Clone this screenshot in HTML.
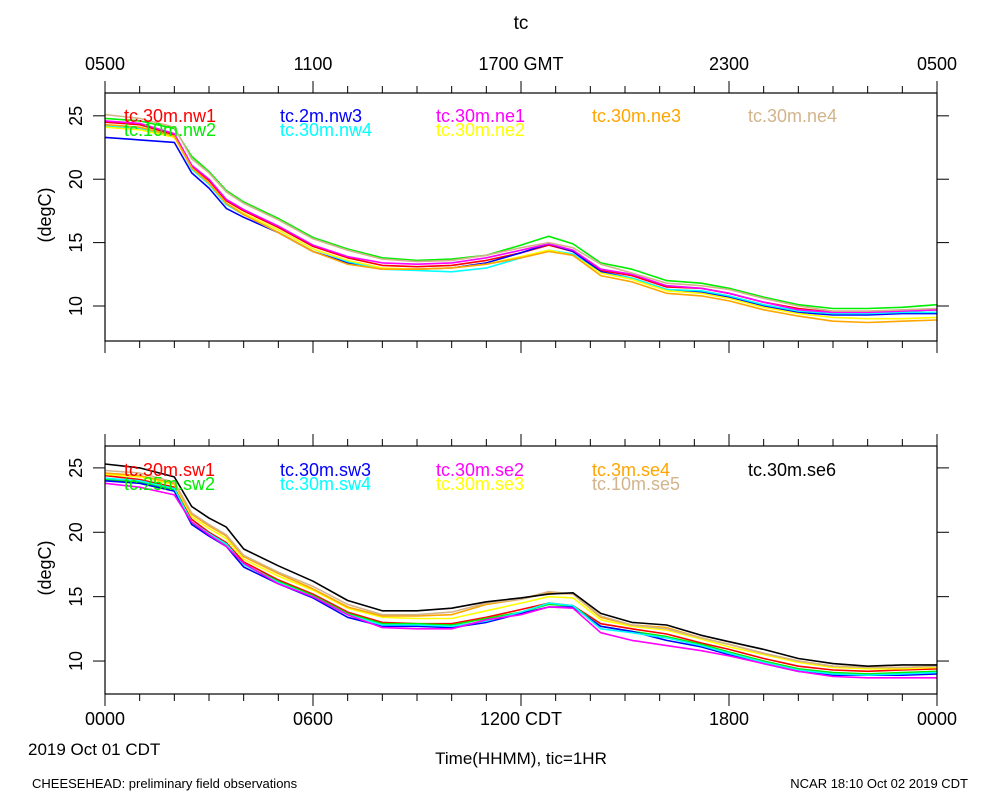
<!DOCTYPE html>
<html><head><meta charset="utf-8"><style>
body{margin:0;background:#fff;}
svg{display:block;font-family:"Liberation Sans",sans-serif;}
</style></head><body>
<svg id="chart" width="1000" height="800" viewBox="0 0 1000 800">
<text x="521" y="29" font-size="19" text-anchor="middle">tc</text>
<g id="topPanel"></g>
<g id="botPanel"></g>
<text x="28" y="755" font-size="17">2019 Oct 01 CDT</text>
<text x="521" y="764" font-size="17" text-anchor="middle">Time(HHMM), tic=1HR</text>
<text x="32" y="788" font-size="13">CHEESEHEAD: preliminary field observations</text>
<text x="968" y="788" font-size="13" text-anchor="end">NCAR 18:10 Oct 02 2019 CDT</text>
</svg>
<script>
const hours = [0,1,2,2.5,3,3.5,4,5,6,7,8,9,10,11,12,12.8,13.5,14.3,15.2,16.2,17.2,18,19,20,21,22,23,24];
const yTicks = [10,15,20,25];
const topXLabels = ["0500","1100","1700 GMT","2300","0500"];
const botXLabels = ["0000","0600","1200 CDT","1800","0000"];

const topNames = ["tc.30m.nw1","tc.10m.nw2","tc.2m.nw3","tc.30m.nw4","tc.30m.ne1","tc.30m.ne2","tc.30m.ne3","tc.30m.ne4"];
const topColors = ["#ff0000","#00ee00","#0000ff","#00ffff","#ff00ff","#ffff00","#ffa500","#d2b48c"];
const nw1 = [24.5,24.3,23.5,21.0,19.9,18.3,17.5,16.2,14.7,13.8,13.2,13.1,13.2,13.6,14.2,14.8,14.3,12.8,12.4,11.5,11.4,11.0,10.3,9.8,9.5,9.5,9.6,9.7];
const nw2 = [24.8,24.6,24.0,21.8,20.6,19.1,18.2,16.9,15.4,14.5,13.8,13.6,13.7,14.0,14.8,15.5,14.9,13.4,12.9,12.0,11.8,11.4,10.7,10.1,9.8,9.8,9.9,10.1];
const nw3 = [23.3,23.1,22.9,20.5,19.3,17.7,17.0,15.8,14.3,13.4,12.9,12.9,13.0,13.4,14.2,14.9,14.3,12.7,12.2,11.3,11.1,10.7,10.0,9.5,9.3,9.3,9.4,9.4];
const nw4 = [24.2,24.0,23.4,20.8,19.6,18.0,17.2,16.0,14.5,13.5,12.9,12.8,12.7,13.0,13.8,14.4,14.1,12.6,12.2,11.3,11.2,10.8,10.1,9.6,9.4,9.4,9.5,9.5];
const ne1 = [24.6,24.4,23.6,21.1,20.0,18.4,17.6,16.3,14.8,13.9,13.4,13.3,13.4,13.8,14.4,14.9,14.4,12.9,12.5,11.6,11.4,11.0,10.3,9.7,9.5,9.5,9.6,9.7];
const ne2 = [24.1,23.9,23.3,20.9,19.7,18.1,17.3,16.0,14.5,13.6,13.0,12.9,13.0,13.3,13.9,14.4,14.0,12.6,12.1,11.2,11.0,10.6,9.9,9.4,9.1,9.0,9.0,9.1];
const ne3 = [24.3,24.1,23.4,20.9,19.7,18.1,17.2,15.8,14.3,13.3,12.9,12.9,13.0,13.3,13.8,14.3,14.0,12.4,11.9,11.0,10.8,10.4,9.7,9.2,8.8,8.7,8.8,8.9];
const ne4 = [25.1,24.8,24.1,21.6,20.5,19.0,18.1,16.8,15.3,14.4,13.7,13.5,13.6,14.0,14.6,15.0,14.6,13.3,12.6,11.8,11.6,11.3,10.6,10.0,9.6,9.6,9.7,9.8];

const botNames = ["tc.30m.sw1","tc.25m.sw2","tc.30m.sw3","tc.30m.sw4","tc.30m.se2","tc.30m.se3","tc.3m.se4","tc.10m.se5","tc.30m.se6"];
const botColors = ["#ff0000","#00ee00","#0000ff","#00ffff","#ff00ff","#ffff00","#ffa500","#d2b48c","#000000"];
const sw1 = [24.4,24.1,23.5,21.0,20.0,19.2,17.7,16.3,15.2,13.8,13.0,12.9,12.9,13.4,14.0,14.5,14.3,12.9,12.5,12.1,11.4,10.9,10.2,9.6,9.3,9.2,9.3,9.4];
const sw2 = [24.1,23.9,23.3,20.7,19.8,19.0,17.5,16.2,15.1,13.7,12.9,12.9,12.8,13.3,13.8,14.4,14.3,12.7,12.3,11.9,11.3,10.7,10.0,9.4,9.1,9.0,9.1,9.2];
const sw3 = [24.0,23.8,23.2,20.6,19.7,18.9,17.3,16.0,14.9,13.4,12.7,12.7,12.6,13.0,13.7,14.2,14.2,12.7,12.3,11.6,11.1,10.5,9.8,9.2,8.9,8.9,8.9,9.0];
const sw4 = [24.2,24.0,23.4,20.8,19.9,19.1,17.5,16.1,15.0,13.6,12.8,12.8,12.7,13.1,13.8,14.5,14.3,12.5,12.2,11.8,11.2,10.6,9.9,9.3,9.0,8.9,9.0,9.1];
const se2 = [23.8,23.5,22.9,20.8,19.8,18.9,17.6,16.0,15.0,13.6,12.6,12.5,12.5,13.2,13.6,14.2,14.1,12.2,11.6,11.2,10.8,10.4,9.8,9.2,8.8,8.7,8.7,8.7];
const se3 = [24.5,24.3,23.7,21.2,20.3,19.5,17.9,16.6,15.5,14.1,13.4,13.3,13.3,13.9,14.5,15.0,14.9,13.2,12.7,12.4,11.7,11.1,10.5,9.9,9.5,9.4,9.4,9.5];
const se4 = [24.6,24.4,23.8,21.4,20.5,19.7,18.1,16.8,15.6,14.2,13.5,13.5,13.6,14.4,14.8,15.3,15.2,13.4,12.8,12.6,11.8,11.3,10.6,10.0,9.6,9.5,9.5,9.6];
const se5 = [24.8,24.6,23.9,21.5,20.6,19.8,18.2,16.9,15.8,14.4,13.6,13.6,13.8,14.5,14.8,15.4,15.2,13.5,12.8,12.5,11.8,11.3,10.6,10.0,9.6,9.5,9.5,9.6];
const se6 = [25.3,25.0,24.3,22.0,21.1,20.4,18.7,17.4,16.2,14.7,13.9,13.9,14.1,14.6,14.9,15.2,15.3,13.7,13.0,12.8,12.0,11.5,10.9,10.2,9.8,9.6,9.7,9.7];

const NS = "http://www.w3.org/2000/svg";
function mk(parent, tag, attrs, txt){
  const e = document.createElementNS(NS, tag);
  for (const k in attrs) e.setAttribute(k, attrs[k]);
  if (txt !== undefined) e.textContent = txt;
  parent.appendChild(e);
  return e;
}
const X0 = 105, X1 = 937;
function xs(h){ return X0 + (X1 - X0) * h / 24; }

function panel(g, top, bot, vmin, vmax, names, colors, series, legendY, legendPos, topLabels, botLabels){
  const ys = v => bot - (v - vmin) / (vmax - vmin) * (bot - top);
  series.forEach((s, i) => {
    const pts = s.map((v, j) => xs(hours[j]).toFixed(1) + "," + ys(v).toFixed(1)).join(" ");
    const pl = mk(g, "polyline", {points: pts, fill: "none", stroke: colors[i], "stroke-width": 1.6, "stroke-linejoin": "round"});
    
    
  });
  const fr = mk(g, "rect", {x: X0, y: top, width: X1 - X0, height: bot - top, fill: "none", stroke: "#000", "stroke-width": 1.2});
  
  
  for (let h = 0; h <= 24; h++) {
    const x = xs(h), L = (h % 6 === 0) ? 12 : 7;
    const t1 = mk(g, "line", {x1: x, x2: x, y1: bot, y2: bot + L, stroke: "#000"});
    
    
    const t2 = mk(g, "line", {x1: x, x2: x, y1: top, y2: top - L, stroke: "#000"});
    
    
  }
  yTicks.forEach(v => {
    const y = ys(v);
    const a = mk(g, "line", {x1: X0 - 12, x2: X0, y1: y, y2: y, stroke: "#000"});
    
    
    const b = mk(g, "line", {x1: X1, x2: X1 + 12, y1: y, y2: y, stroke: "#000"});
    
    
    const t = mk(g, "text", {x: 82, y: y, "font-size": 18, "text-anchor": "middle", transform: "rotate(-90 82 " + y + ")"}, String(v));
    
    
  });
  const cy = (top + bot) / 2 - 2;
  const yt = mk(g, "text", {x: 51, y: cy, "font-size": 18, "text-anchor": "middle", transform: "rotate(-90 51 " + cy + ")"}, "(degC)");
  
  
  if (topLabels) topLabels.forEach((l, i) => {
    const t = mk(g, "text", {x: xs(i * 6), y: 70, "font-size": 18, "text-anchor": "middle"}, l);
    
    
  });
  if (botLabels) botLabels.forEach((l, i) => {
    const t = mk(g, "text", {x: xs(i * 6), y: 725, "font-size": 18, "text-anchor": "middle"}, l);
    
    
  });
  names.forEach((n, i) => {
    const col = legendPos[i][0], row = legendPos[i][1];
    const t = mk(g, "text", {x: 124 + col * 156, y: legendY + row * 14, "font-size": 18, fill: colors[i]}, n);
    
    
  });
}
panel(document.getElementById("topPanel"), 93, 341, 7.24, 26.8, topNames, topColors,
  [nw1, nw2, nw3, nw4, ne1, ne2, ne3, ne4], 122,
  [[0,0],[0,1],[1,0],[1,1],[2,0],[2,1],[3,0],[4,0]], topXLabels, null);
panel(document.getElementById("botPanel"), 446, 694, 7.44, 26.7, botNames, botColors,
  [sw1, sw2, sw3, sw4, se2, se3, se4, se5, se6], 476,
  [[0,0],[0,1],[1,0],[1,1],[2,0],[2,1],[3,0],[3,1],[4,0]], null, botXLabels);
</script>
</body></html>
